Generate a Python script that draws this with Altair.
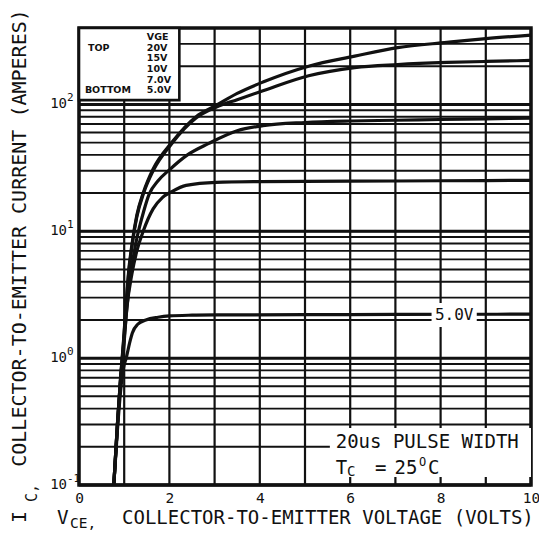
import altair as alt
import pandas as pd

# ---------------- data ----------------
V_TICKS = [0, 2, 4, 6, 8, 10]
V_GRID = list(range(0, 11))
I_GRID = [0.1, 0.2, 0.3, 0.4, 0.5, 0.6, 0.7, 0.8, 0.9,
          1, 2, 3, 4, 5, 6, 7, 8, 9,
          10, 20, 30, 40, 50, 60, 70, 80, 90,
          100, 200, 300, 400]
DECADES = [0.1, 1, 10, 100]
DECADE_EXP = ["-1", "0", "1", "2"]

v20 = [0.77, 0.85, 0.92, 0.98, 1.04, 1.10, 1.17, 1.28, 1.43, 1.64, 2.05, 2.59, 3.03, 3.5, 4.07, 5.08, 6.1, 7.05, 8.14, 9.0, 10.0]
i20 = [0.1, 0.3, 0.7, 1.3, 2.6, 4.9, 7.8, 13.4, 20.5, 31, 50, 80, 98, 122, 150, 200, 240, 280, 308, 330, 352]

v15 = [0.77, 0.85, 0.92, 0.98, 1.04, 1.10, 1.17, 1.28, 1.43, 1.64, 2.05, 2.59, 3.03, 3.5, 4.07, 5.08, 6.1, 7.05, 8.14, 9.0, 10.0]
i15 = [0.1, 0.3, 0.7, 1.25, 2.5, 4.7, 7.5, 13, 20, 30, 49, 78, 95, 109, 128, 168, 195, 206, 214, 218, 222]

v10 = [0.77, 0.85, 0.92, 0.98, 1.05, 1.12, 1.20, 1.28, 1.43, 1.55, 1.75, 2.0, 2.4, 2.86, 3.5, 4.07, 5, 6, 7, 8, 9, 10]
i10 = [0.1, 0.3, 0.68, 1.2, 2.3, 4.0, 6.2, 8.8, 14.3, 19.5, 25, 30.5, 40, 49, 62, 68, 72, 74, 75, 76, 77, 78]

v7 = [0.77, 0.85, 0.92, 0.98, 1.06, 1.17, 1.28, 1.42, 1.64, 1.85, 2.05, 2.37, 3.03, 4, 6, 8, 10]
i7 = [0.1, 0.3, 0.65, 1.1, 2.5, 4.6, 7.0, 10, 15, 18.5, 20.5, 23, 24.3, 24.6, 24.8, 25.0, 25.2]

v5 = [0.77, 0.85, 0.92, 0.98, 1.05, 1.12, 1.18, 1.3, 1.48, 1.75, 2.0, 2.5, 3, 5, 7, 10]
i5 = [0.1, 0.27, 0.55, 0.82, 1.02, 1.32, 1.58, 1.85, 2.0, 2.1, 2.15, 2.18, 2.19, 2.2, 2.21, 2.22]

SERIES = [("20V", v20, i20), ("15V", v15, i15), ("10V", v10, i10), ("7.0V", v7, i7), ("5.0V", v5, i5)]

LEGEND_VALUES = ["VGE", "20V", "15V", "10V", "7.0V", "5.0V"]

rows = []
for name, vs, is_ in SERIES:
    for a, b in zip(vs, is_):
        rows.append({"vge": name, "v": a, "i": b})
curves_df = pd.DataFrame(rows)

vgrid_df = pd.DataFrame({"v": V_GRID})
igrid_df = pd.DataFrame({"i": I_GRID})
dec_df = pd.DataFrame({"i": DECADES, "e": DECADE_EXP})
one = pd.DataFrame({"_": [0]})

# ---------------- scales ----------------
XS = alt.Scale(domain=[0, 10], nice=False, zero=False)
YS = alt.Scale(type="log", domain=[0.1, 400], nice=False)

MONO = "DejaVu Sans Mono"
SANS = "DejaVu Sans"
INK = "#111111"

x_axis = alt.Axis(values=V_TICKS, grid=False, ticks=False, domain=False,
                  labelFont=MONO, labelFontSize=14.5, labelColor=INK,
                  labelPadding=6, title=None, labelFlush=False)

vgrid = alt.Chart(vgrid_df).mark_rule(color=INK, strokeWidth=2.2).encode(
    x=alt.X("v:Q", scale=XS, axis=x_axis))
igrid = alt.Chart(igrid_df).mark_rule(color=INK, strokeWidth=1.9).encode(
    y=alt.Y("i:Q", scale=YS, axis=None))
dgrid = alt.Chart(dec_df).mark_rule(color=INK, strokeWidth=3).encode(
    y=alt.Y("i:Q", scale=YS, axis=None))

curves = alt.Chart(curves_df).mark_line(color=INK, strokeWidth=3.2, interpolate="monotone").encode(
    x=alt.X("v:Q", scale=XS),
    y=alt.Y("i:Q", scale=YS),
    detail="vge:N")


def box(v1, v2, i1, i2, stroke=None, sw=0):
    kw = dict(fill="white")
    if stroke:
        kw.update(stroke=stroke, strokeWidth=sw)
    return alt.Chart(one).mark_rect(**kw).encode(
        x=alt.XDatum(v1, scale=XS), x2=alt.X2Datum(v2),
        y=alt.YDatum(i1, scale=YS), y2=alt.Y2Datum(i2))


def dtext(txt, v, i, size, align="left", weight="normal", font=MONO):
    return alt.Chart(one).mark_text(text=txt, font=font, fontSize=size, align=align,
                                    baseline="middle", fontWeight=weight, color=INK).encode(
        x=alt.XDatum(v, scale=XS), y=alt.YDatum(i, scale=YS))


def ptext(txt, x, y, size, align="left", angle=0):
    kw = dict(text=txt, font=MONO, fontSize=size, align=align, baseline="middle", color=INK)
    if angle:
        kw["angle"] = angle
    return alt.Chart(one).mark_text(**kw).encode(x=alt.value(x), y=alt.value(y))


# legend box (top-left)
legend_box = box(0, 2.22, 108, 400, stroke=INK, sw=2.6)
legend_rows_i = [339, 278, 232, 190, 155, 130]
legend_texts = [dtext(t, 1.5, iv, 9.5, weight="bold", font=SANS)
                for t, iv in zip(LEGEND_VALUES, legend_rows_i)]
legend_texts.append(dtext("TOP", 0.2, 278, 9.5, weight="bold", font=SANS))
legend_texts.append(dtext("BOTTOM", 0.13, 130, 9.5, weight="bold", font=SANS))

# pulse width box (bottom-right)
pulse_box = box(5.55, 10, 0.1156, 0.281)
pulse_texts = [
    dtext("20us PULSE WIDTH", 5.68, 0.218, 19),
    dtext("T", 5.68, 0.137, 19),
    dtext("C", 5.93, 0.126, 14),
    dtext("=", 6.55, 0.137, 19),
    dtext("25", 6.98, 0.137, 19),
    dtext("O", 7.52, 0.153, 12),
    dtext("C", 7.72, 0.137, 19),
]

# 5.0V label on curve
lab_box = box(7.8, 8.8, 1.76, 2.72)
lab_text = dtext("5.0V", 8.3, 2.19, 16, align="center")

# y tick labels (10^n)
ylab_base = alt.Chart(dec_df).mark_text(text="10", font=MONO, fontSize=14, align="right",
                                        baseline="middle", color=INK).encode(
    x=alt.value(-12), y=alt.Y("i:Q", scale=YS))
ylab_exp = alt.Chart(dec_df).mark_text(font=MONO, fontSize=11, align="left",
                                       baseline="middle", color=INK, dy=-6).encode(
    x=alt.value(-12), y=alt.Y("i:Q", scale=YS), text="e:N")

# axis titles (pixel positions relative to the plot origin)
titles = [
    ptext("COLLECTOR-TO-EMITTER VOLTAGE (VOLTS)", 43, 490, 19),
    ptext("V", -22, 490, 19.3),
    ptext("CE,", -9, 496, 14.5),
    ptext("COLLECTOR-TO-EMITTER CURRENT (AMPERES)", -59, 210, 20, align="center", angle=270),
    ptext("I", -59, 489, 20, align="center", angle=270),
    ptext("C,", -47, 474, 15, align="left", angle=270),
]

chart = alt.layer(
    vgrid, igrid, dgrid, curves,
    legend_box, pulse_box, lab_box,
    *legend_texts, *pulse_texts, lab_text,
    ylab_base, ylab_exp, *titles,
).properties(
    width=452, height=457,
    autosize=alt.AutoSizeParams(type="none"),
    padding={"left": 71, "top": 20, "right": 8, "bottom": 46},
    background="white",
).configure_view(stroke=INK, strokeWidth=3.5)

chart.save("out.html", embed_options={"renderer": "svg", "actions": False})
